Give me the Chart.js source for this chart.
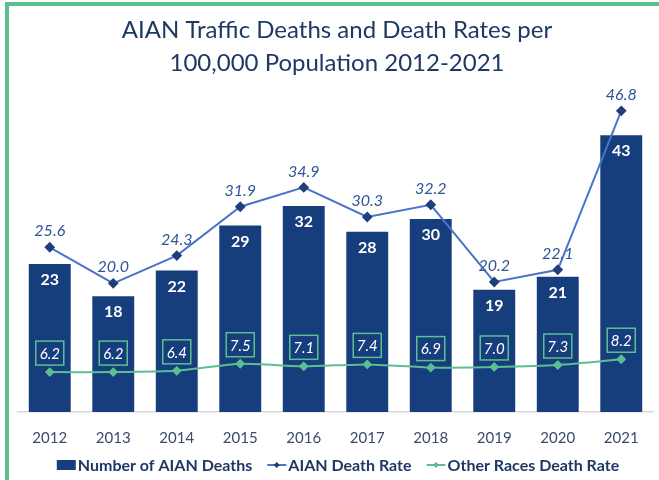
<!DOCTYPE html>
<html>
<head>
<meta charset="utf-8">
<script src="https://cdn.jsdelivr.net/npm/chart.js@4"></script>
<style>
  html, body { margin: 0; padding: 0; background: #fff; }
  #wrap { position: relative; width: 659px; height: 480px; }
  #frame {
    position: absolute; left: 5px; top: 2px; right: 0; bottom: 0;
    border-left: 4px solid #5cbf91; border-top: 4px solid #5cbf91;
    pointer-events: none;
  }
  canvas { position: absolute; left: 0; top: 0; }
</style>
</head>
<body>
<div id="wrap">
  <canvas id="chartCanvas" width="659" height="480"></canvas>
  <div id="frame"></div>
</div>
<script>
/********** DATA **********/
const years = ["2012", "2013", "2014", "2015", "2016", "2017", "2018", "2019", "2020", "2021"];
const aianDeaths = [23, 18, 22, 29, 32, 28, 30, 19, 21, 43];
const aianRate = [25.6, 20.0, 24.3, 31.9, 34.9, 30.3, 32.2, 20.2, 22.1, 46.8];
const otherRate = [6.2, 6.2, 6.4, 7.5, 7.1, 7.4, 6.9, 7.0, 7.3, 8.2];

const NAVY = "#173e7c";
const BLUE_LINE = "#4a74c9";
const GREEN = "#5cbf91";
const FONT = "Lato, 'Open Sans', sans-serif";

/********** LABELS + LEGEND PLUGIN **********/
const labelPlugin = {
  id: "labelPlugin",
  afterDatasetsDraw(chart) {
    const ctx = chart.ctx;
    ctx.save();
    ctx.textAlign = "center";
    ctx.textBaseline = "middle";

    // bar values, white inside the bar top
    chart.getDatasetMeta(0).data.forEach((bar, i) => {
      ctx.font = "bold 16px " + FONT;
      ctx.fillStyle = "#ffffff";
      ctx.fillText(String(aianDeaths[i]), bar.x, bar.y + 16);
    });

    // AIAN rate above its points
    chart.getDatasetMeta(1).data.forEach((pt, i) => {
      ctx.font = "italic 16px " + FONT;
      ctx.fillStyle = "#2f5597";
      ctx.fillText(aianRate[i].toFixed(1), pt.x, pt.y - 16);
    });

    // other races rate in green boxes
    chart.getDatasetMeta(2).data.forEach((pt, i) => {
      const cy = pt.y - 19;
      ctx.strokeStyle = GREEN;
      ctx.lineWidth = 1.5;
      ctx.strokeRect(pt.x - 14, cy - 12, 28, 24);
      ctx.font = "italic 15px " + FONT;
      ctx.fillStyle = "#ffffff";
      ctx.fillText(otherRate[i].toFixed(1), pt.x, cy + 1);
    });

    // legend
    const items = [
      { text: "Number of AIAN Deaths", kind: "box", color: NAVY },
      { text: "AIAN Death Rate", kind: "line", color: BLUE_LINE, mark: "#1f3f7a" },
      { text: "Other Races Death Rate", kind: "line", color: GREEN, mark: GREEN }
    ];
    ctx.font = "bold 16px " + FONT;
    const iconW = 19, gap = 2, itemGap = 15;
    let total = 0;
    items.forEach(it => { it.w = ctx.measureText(it.text).width; total += iconW + gap + it.w; });
    total += itemGap * (items.length - 1);
    let x = 338 - total / 2;
    const y = 465;
    ctx.textAlign = "left";
    items.forEach(it => {
      if (it.kind === "box") {
        ctx.fillStyle = it.color;
        ctx.fillRect(x, y - 5, iconW, 10);
      } else {
        ctx.strokeStyle = it.color;
        ctx.lineWidth = 2;
        ctx.beginPath();
        ctx.moveTo(x, y);
        ctx.lineTo(x + iconW, y);
        ctx.stroke();
        ctx.fillStyle = it.mark;
        ctx.beginPath();
        ctx.moveTo(x + iconW / 2, y - 3);
        ctx.lineTo(x + iconW / 2 + 3, y);
        ctx.lineTo(x + iconW / 2, y + 3);
        ctx.lineTo(x + iconW / 2 - 3, y);
        ctx.closePath();
        ctx.fill();
      }
      ctx.fillStyle = "#1f3864";
      ctx.fillText(it.text, x + iconW + gap, y + 1);
      x += iconW + gap + it.w + itemGap;
    });
    ctx.restore();
  }
};

/********** CHART **********/
const ctx = document.getElementById("chartCanvas").getContext("2d");
new Chart(ctx, {
  type: "bar",
  data: {
    labels: years,
    datasets: [
      {
        type: "bar",
        label: "Number of AIAN Deaths",
        data: aianDeaths,
        backgroundColor: NAVY,
        barPercentage: 0.66,
        categoryPercentage: 1.0,
        order: 3
      },
      {
        type: "line",
        label: "AIAN Death Rate",
        data: aianRate,
        borderColor: BLUE_LINE,
        borderWidth: 2,
        pointStyle: "rectRot",
        pointRadius: 4,
        pointBackgroundColor: "#1f3f7a",
        pointBorderColor: "#1f3f7a",
        tension: 0,
        order: 1
      },
      {
        type: "line",
        label: "Other Races Death Rate",
        data: otherRate,
        borderColor: GREEN,
        borderWidth: 2,
        pointStyle: "rectRot",
        pointRadius: 3.5,
        pointBackgroundColor: GREEN,
        pointBorderColor: GREEN,
        tension: 0.2,
        order: 2
      }
    ]
  },
  options: {
    responsive: false,
    animation: false,
    layout: { padding: { left: 18, right: 3, top: 6, bottom: 16 } },
    plugins: {
      legend: { display: false },
      tooltip: { enabled: false },
      title: {
        display: true,
        text: ["AIAN Traffic Deaths and Death Rates per", "100,000 Population 2012-2021"],
        color: "#1f3864",
        font: { family: FONT, size: 24, weight: "normal", lineHeight: 1.38 },
        padding: { top: 8, bottom: 10 }
      }
    },
    scales: {
      x: {
        offset: true,
        grid: { display: false, drawTicks: false },
        border: { color: "#d9d9d9", width: 1.5 },
        ticks: { color: "#3b4a6b", font: { family: FONT, size: 15 }, padding: 17 }
      },
      y: {
        display: false,
        min: 0,
        max: 50
      }
    }
  },
  plugins: [labelPlugin]
});
</script>
</body>
</html>
